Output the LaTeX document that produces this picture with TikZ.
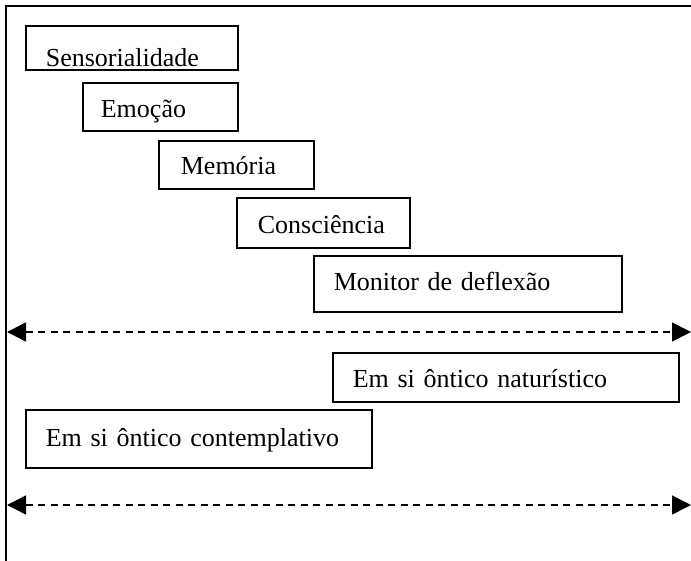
\documentclass[tikz,border=0pt]{standalone}
\usepackage{fontspec}
\setmainfont{Liberation Serif}
\usetikzlibrary{arrows.meta}
\tikzset{
  stepbox/.style n args={4}{draw, line width=1.7pt, anchor=north west, align=left,
    inner ysep=0pt, inner xsep=#2pt, text width=#1pt-2*#2pt,
    text height=#3pt, text depth=#4pt,
    font=\fontsize{26}{30}\selectfont},
  frameline/.style={line width=1.8pt},
  dasharrow/.style={line width=1.5pt, dash pattern=on 7pt off 5.5pt,
    {Triangle[length=19pt,width=19pt]}-{Triangle[length=19pt,width=19pt]}}
}
\begin{document}
\begin{tikzpicture}[x=1pt,y=-1pt]
\useasboundingbox (0,0) rectangle (691,561);
% outer frame
\coordinate (ftr) at (691,6);
\coordinate (ftl) at (6,6);
\coordinate (fbl) at (6,561);
\draw[frameline] (ftr) -- (ftl) -- (fbl);
% boxes: width, inset, height above baseline, depth below baseline
\node[stepbox={212}{20}{41}{3}] (sens) at (25,25) {Sensorialidade};
\node[stepbox={155}{18}{35}{13}] (emo) at (82,82) {Emoção};
\node[stepbox={155}{22}{34}{14}] (mem) at (158,140) {Memória};
\node[stepbox={173}{21}{36}{14}] (cons) at (236,197) {Consciência};
\node[stepbox={308}{20}{35}{21}] (mon) at (313,255) {Monitor de deflexão};
\node[stepbox={346}{20}{35}{14}] (nat) at (332,352) {Em si ôntico naturístico};
\node[stepbox={346}{20}{37}{21}] (cont) at (25,409) {Em si ôntico contemplativo};
% dashed double arrows
\coordinate (a1l) at (7,332);
\coordinate (a1r) at (691,332);
\coordinate (a2l) at (7,505);
\coordinate (a2r) at (691,505);
\draw[dasharrow] (a1l) -- (a1r);
\draw[dasharrow] (a2l) -- (a2r);
\end{tikzpicture}
\end{document}
